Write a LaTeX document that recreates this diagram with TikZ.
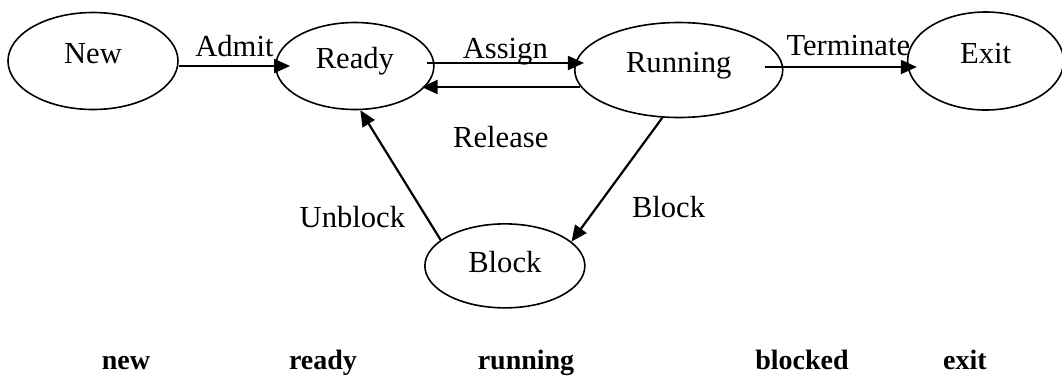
\documentclass[tikz,border=0pt]{standalone}
\usepackage{fontspec}
\setmainfont{Liberation Serif}
\usetikzlibrary{shapes.geometric, arrows.meta, positioning}

\begin{document}
\begin{tikzpicture}[node distance=4.5cm, font=\fontsize{15.3pt}{18pt}\selectfont]
% Define state and arrow styles
\tikzstyle{state} = [ellipse, draw=black, line width=0.8pt, inner sep=0pt, text height=10.5pt, text depth=8.5pt]
\tikzstyle{arrow} = [-{Triangle[length=8pt,width=7pt]}, line width=1.1pt, draw=black]
\tikzstyle{lbl} = [inner sep=0pt]
\tikzstyle{caption} = [anchor=base, font=\fontsize{14pt}{17pt}\selectfont\bfseries]
\useasboundingbox (0,0) rectangle (531pt,-188pt);
% Define nodes (states)
\node[state, minimum width=85pt, minimum height=48.5pt] (New) at (46.5pt,-30.5pt) {New};
\node[state, right of=New, xshift=2.9pt, yshift=-2.5pt, minimum width=79pt, minimum height=43.5pt] (Ready) {Ready};
\node[state, right of=Ready, xshift=33.9pt, yshift=-2pt, minimum width=104pt, minimum height=47.5pt] (Running) {Running};
\node[state, right of=Running, xshift=25.4pt, yshift=4.5pt, minimum width=78pt, minimum height=49pt] (Exit) {Exit};
\node[state, below of=Ready, xshift=75pt, yshift=28.1pt, minimum width=80pt, minimum height=42pt, text depth=4pt] (Block) {Block};
% Transitions (arrows)
\draw[arrow] (New.east |- Ready.west) -- ([xshift=7.5pt]Ready.west) node[lbl, midway, above=4pt] {Admit};
\draw[arrow] ([xshift=-4pt,yshift=1.5pt]Ready.east) -- ([xshift=5pt,yshift=3.5pt]Running.west) node[lbl, midway, above=-1.7pt] {Assign};
\draw[arrow] ([xshift=3pt,yshift=-8.5pt]Running.west) -- ([xshift=-6.5pt,yshift=-10.5pt]Ready.east) node[lbl, midway, below=19pt] {Release};
\draw[arrow] ([xshift=-9.5pt,yshift=1.5pt]Running.east) -- ([xshift=5pt,yshift=-3pt]Exit.west) node[lbl, pos=0.55, above=5pt] {Terminate};
\draw[arrow] (Running.251) -- (Block.20) node[lbl, pos=0.72, right=17pt] {Block};
\draw[arrow] (Block.158) -- (Ready.277) node[lbl, pos=0.18, left=10pt] {Unblock};
% Captions under the diagram
\node[caption] (capNew) at (63pt,-184.5pt) {new};
\node[caption] (capReady) at (161.5pt,-184.5pt) {ready};
\node[caption] (capRunning) at (263pt,-184.5pt) {running};
\node[caption] (capBlocked) at (401pt,-184.5pt) {blocked};
\node[caption] (capExit) at (482.5pt,-184.5pt) {exit};
\end{tikzpicture}
\end{document}
